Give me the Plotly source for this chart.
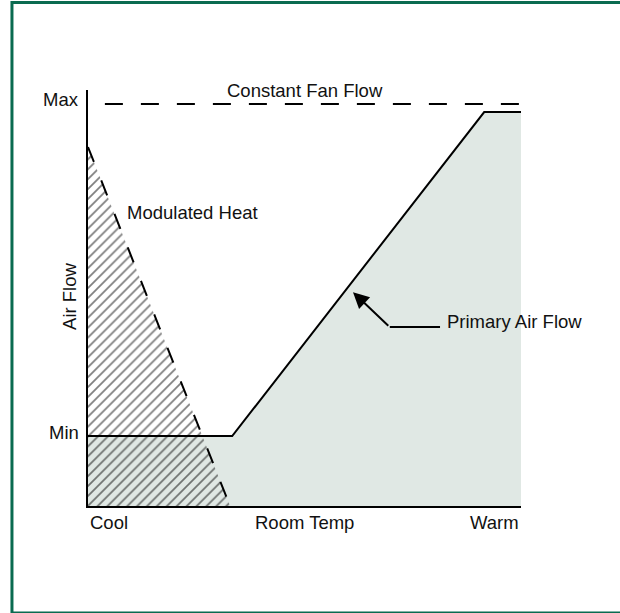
import plotly.graph_objects as go

# ---- data (temperature scale 0..10, air flow as % of max) ----
x_labels = ["Cool", "Room Temp", "Warm"]
x_label_pos = [0, 5, 10]
y_labels = ["Min", "Max"]
MIN_FLOW = 17.4
MAX_FLOW = 100.0

primary_x = [0, 3.33, 9.15, 10]
primary_y = [MIN_FLOW, MIN_FLOW, 98.0, 98.0]

heat_x = [0, 3.28]
heat_y = [89.3, 0]

fan_x = [0.39, 10]
fan_y = [MAX_FLOW, MAX_FLOW]

arrow_tip = (6.12, 53.2)
arrow_elbow = (6.97, 44.5)
arrow_end = (8.13, 44.5)

FONT = "Liberation Sans, Arial, Helvetica, sans-serif"
FS = 18.5
GREEN_FILL = "#e0e8e4"
BORDER = "#0a6b50"

fig = go.Figure()

# primary air flow fill
fig.add_trace(go.Scatter(x=primary_x, y=primary_y, mode="lines", fill="tozeroy",
                         fillcolor=GREEN_FILL, line=dict(width=0), hoverinfo="skip",
                         showlegend=False))
# modulated heat hatched area
fig.add_trace(go.Scatter(x=[heat_x[0], heat_x[0], heat_x[1], heat_x[0]],
                         y=[0, heat_y[0], heat_y[1], 0], mode="lines", fill="toself",
                         fillcolor="rgba(0,0,0,0)", line=dict(width=0),
                         fillpattern=dict(shape="/", fgcolor="black", bgcolor="rgba(0,0,0,0)",
                                          size=7, solidity=0.25),
                         hoverinfo="skip", showlegend=False))
# modulated heat dashed edge
fig.add_trace(go.Scatter(x=heat_x, y=heat_y, mode="lines",
                         line=dict(color="black", width=2, dash="16px,20px"),
                         hoverinfo="skip", showlegend=False))
# primary air flow line
fig.add_trace(go.Scatter(x=primary_x, y=primary_y, mode="lines",
                         line=dict(color="black", width=2), hoverinfo="skip",
                         showlegend=False))
# constant fan flow
fig.add_trace(go.Scatter(x=fan_x, y=fan_y, mode="lines",
                         line=dict(color="black", width=2, dash="18px,18px"),
                         hoverinfo="skip", showlegend=False))

annotations = []
font = dict(family=FONT, size=FS, color="#111")
# y labels
for lbl, yv in zip(y_labels, [MIN_FLOW, MAX_FLOW]):
    annotations.append(dict(x=0, y=yv, xref="x", yref="y", text=lbl, showarrow=False,
                            xanchor="right", yanchor="middle", xshift=-7, yshift=4, font=font))
# x labels
for lbl, xv, anc in zip(x_labels, x_label_pos, ["left", "center", "right"]):
    annotations.append(dict(x=xv, y=0, xref="x", yref="y", text=lbl, showarrow=False,
                            xanchor=anc, yanchor="middle", yshift=-16, font=font))
annotations.append(dict(x=0, y=52, xref="x", yref="y", text="Air Flow", textangle=-90,
                        showarrow=False, xanchor="center", yanchor="middle", xshift=-18,
                        font=font))
annotations.append(dict(x=5, y=MAX_FLOW, xref="x", yref="y", text="Constant Fan Flow",
                        showarrow=False, xanchor="center", yanchor="middle", yshift=13,
                        font=font))
annotations.append(dict(x=0.855, y=72.9, xref="x", yref="y", text="Modulated Heat",
                        showarrow=False, xanchor="left", yanchor="middle", font=font))
annotations.append(dict(x=8.24, y=45.8, xref="x", yref="y", text="Primary Air Flow",
                        showarrow=False, xanchor="left", yanchor="middle", font=font))
annotations.append(dict(x=arrow_tip[0], y=arrow_tip[1], xref="x", yref="y",
                        ax=arrow_elbow[0], ay=arrow_elbow[1], axref="x", ayref="y",
                        text="", showarrow=True, arrowhead=2, arrowsize=1.6,
                        arrowwidth=2, arrowcolor="black"))

shapes = [
    dict(type="line", xref="x", yref="y", x0=arrow_elbow[0], y0=arrow_elbow[1],
         x1=arrow_end[0], y1=arrow_end[1], line=dict(color="black", width=2)),
    dict(type="rect", xref="paper", yref="paper", x0=-0.1756, x1=1.25, y0=-0.2572, y1=1.2103,
         line=dict(color=BORDER, width=3), fillcolor="rgba(0,0,0,0)", layer="below"),
]

fig.update_layout(
    width=620, height=613,
    margin=dict(l=88, r=99, t=90, b=107),
    paper_bgcolor="white", plot_bgcolor="white",
    showlegend=False,
    annotations=annotations,
    shapes=shapes,
    xaxis=dict(range=[0, 10], showgrid=False, zeroline=False, showticklabels=False,
               ticks="", showline=True, linecolor="black", linewidth=2, fixedrange=True),
    yaxis=dict(range=[0, 103.48], showgrid=False, zeroline=False, showticklabels=False,
               ticks="", showline=True, linecolor="black", linewidth=2, fixedrange=True),
)

fig.write_html("out.html", config={"displayModeBar": False},
               post_script="document.body.style.margin='0';document.body.style.overflow='hidden';")
